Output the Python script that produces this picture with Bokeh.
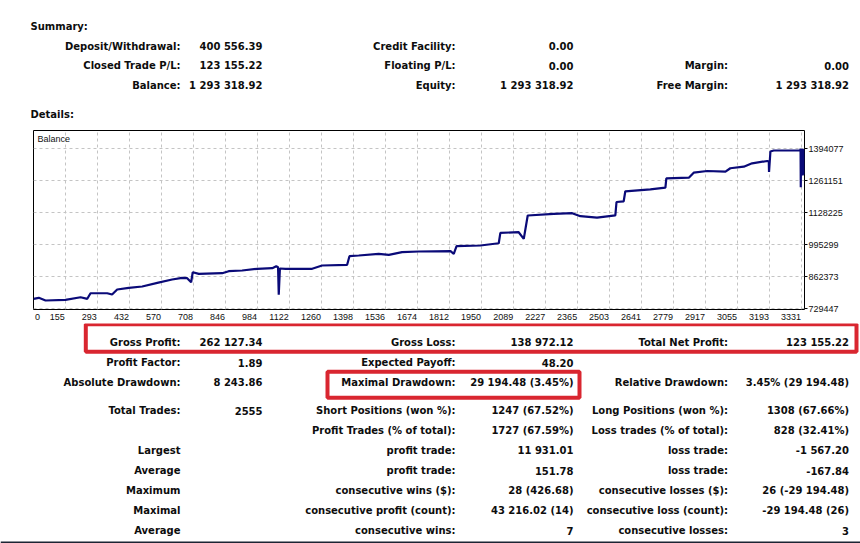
from bokeh.plotting import figure
from bokeh.layouts import column, row
from bokeh.models import Range1d, FixedTicker, Label, BasicTickFormatter
from bokeh.core.properties import value
from bokeh.embed import file_html
from bokeh.resources import INLINE

# ---------------- data ----------------
SUMMARY_LABELS_1 = ["Deposit/Withdrawal:", "Closed Trade P/L:", "Balance:"]
SUMMARY_VALUES_1 = ["400 556.39", "123 155.22", "1 293 318.92"]
SUMMARY_LABELS_2 = ["Credit Facility:", "Floating P/L:", "Equity:"]
SUMMARY_VALUES_2 = ["0.00", "0.00", "1 293 318.92"]
SUMMARY_LABELS_3 = ["", "Margin:", "Free Margin:"]
SUMMARY_VALUES_3 = ["", "0.00", "1 293 318.92"]

TRADE_NO = [17, 40, 69, 155, 220, 249, 263, 335, 356, 378, 428, 486, 551, 615, 658, 680, 697, 704,
            730, 831, 859, 917, 982, 1047, 1064, 1072, 1075, 1080, 1104, 1219, 1262, 1370, 1380,
            1420, 1506, 1550, 1607, 1679, 1816, 1830, 1842, 1945, 2024, 2031, 2110, 2132, 2149,
            2261, 2341, 2376, 2448, 2527, 2532, 2563, 2570, 2678, 2743, 2747, 2844, 2865, 2923,
            3002, 3023, 3081, 3117, 3182, 3189, 3190, 3196, 3210, 3325,
            3326, 3327, 3328, 3329, 3330, 3331, 3332, 3333, 3334, 3335, 3336, 3337, 3338, 3339,
            3340, 3341, 3342]
BALANCE = [771000, 775100, 763900, 766800, 777600, 771000, 794200, 794200, 788800, 809600, 816700,
           822100, 837400, 851200, 858200, 856600, 839900, 881500, 874800, 877300, 885600, 888500,
           895600, 898100, 906400, 902200, 787600, 896800, 895600, 895600, 909300, 912200, 947900,
           950800, 957900, 953800, 964600, 967500, 968700, 957900, 989500, 992400, 1001900,
           1045100, 1047600, 1020200, 1117000, 1124100, 1126600, 1114100, 1108000, 1117900,
           1173200, 1176100, 1217600, 1225900, 1232600, 1271600, 1274100, 1294900, 1301900,
           1299000, 1313200, 1319800, 1333900, 1343500, 1341400, 1297700, 1382900, 1387000, 1387000,
           1395000, 1234600, 1394000, 1283000, 1393000, 1285000, 1394000, 1290000, 1393000,
           1283000, 1392000, 1288000, 1393000, 1286000, 1391000, 1290000, 1293318.92]

X_TICK_LABELS = [0, 155, 293, 432, 570, 708, 846, 984, 1122, 1260, 1398, 1536, 1674, 1812,
                 1950, 2089, 2227, 2365, 2503, 2641, 2779, 2917, 3055, 3193, 3331]
Y_TICK_VALUES = [729447, 862373, 995299, 1128225, 1261151, 1394077]

D_LABELS_1 = ["Gross Profit:", "Profit Factor:", "Absolute Drawdown:", "Total Trades:", "",
              "Largest", "Average", "Maximum", "Maximal", "Average"]
D_VALUES_1 = ["262 127.34", "1.89", "8 243.86", "2555", "", "", "", "", "", ""]
D_LABELS_2 = ["Gross Loss:", "Expected Payoff:", "Maximal Drawdown:", "Short Positions (won %):",
              "Profit Trades (% of total):", "profit trade:", "profit trade:",
              "consecutive wins ($):", "consecutive profit (count):", "consecutive wins:"]
D_VALUES_2 = ["138 972.12", "48.20", "29 194.48 (3.45%)", "1247 (67.52%)", "1727 (67.59%)",
              "11 931.01", "151.78", "28 (426.68)", "43 216.02 (14)", "7"]
D_LABELS_3 = ["Total Net Profit:", "", "Relative Drawdown:", "Long Positions (won %):",
              "Loss trades (% of total):", "loss trade:", "loss trade:",
              "consecutive losses ($):", "consecutive loss (count):", "consecutive losses:"]
D_VALUES_3 = ["123 155.22", "", "3.45% (29 194.48)", "1308 (67.66%)", "828 (32.41%)",
              "-1 567.20", "-167.84", "26 (-29 194.48)", "-29 194.48 (26)", "3"]

# ---------------- layout / style ----------------
W = 860
COL_RIGHT = [180, 262, 455, 573, 727.5, 848.5]
SUM_ROWS_Y = [45.5, 65, 85]
DET_ROWS_Y = [342, 362, 382, 410, 430, 450, 470, 490, 510, 530]
TXT_FONT = "DejaVu Sans"
TXT_SIZE = "10px"
TXT_COLOR = "#0d0d0d"
RED = "#d92630"


def text_fig(top, bottom):
    p = figure(width=W, height=int(bottom - top), x_range=Range1d(0, W),
               y_range=Range1d(bottom, top), output_backend="svg", toolbar_location=None,
               min_border=0, min_border_left=0, min_border_right=0, min_border_top=0,
               min_border_bottom=0)
    p.axis.visible = False
    p.grid.visible = False
    p.outline_line_color = None
    p.background_fill_color = "white"
    p.border_fill_color = "white"
    return p


def put_column(p, texts, ys, xr, align="right"):
    xs, yy, tt = [], [], []
    for t, y in zip(texts, ys):
        if t:
            xs.append(xr)
            yy.append(y)
            tt.append(t)
    p.text(x=xs, y=yy, text=tt, text_align=align, text_baseline="middle",
           text_font=value(TXT_FONT), text_font_style="bold", text_font_size=TXT_SIZE,
           text_color=TXT_COLOR)


# ---- top part (summary) ----
top = text_fig(0, 120)
put_column(top, ["Summary:"], [25.5], 30, align="left")
put_column(top, ["Details:"], [114], 30, align="left")
put_column(top, SUMMARY_LABELS_1, SUM_ROWS_Y, COL_RIGHT[0])
put_column(top, SUMMARY_VALUES_1, SUM_ROWS_Y, COL_RIGHT[1])
put_column(top, SUMMARY_LABELS_2, SUM_ROWS_Y, COL_RIGHT[2])
put_column(top, SUMMARY_VALUES_2, SUM_ROWS_Y, COL_RIGHT[3])
put_column(top, SUMMARY_LABELS_3, SUM_ROWS_Y, COL_RIGHT[4])
put_column(top, SUMMARY_VALUES_3, SUM_ROWS_Y, COL_RIGHT[5])

# ---- balance chart ----
X_START, X_END = 17, 3343
Y_START, Y_END = 726600, 1470100
FRAME_W, FRAME_H = 771, 179
PX_PER_TRADE = FRAME_W / (X_END - X_START)
DIGIT_W = 4.8

chart = figure(frame_width=FRAME_W, frame_height=FRAME_H,
               x_range=Range1d(X_START, X_END), y_range=Range1d(Y_START, Y_END),
               output_backend="svg", toolbar_location=None, y_axis_location="right",
               min_border_left=33, min_border_right=56, min_border_top=10, min_border_bottom=14)
chart.background_fill_color = "white"
chart.border_fill_color = "white"
chart.outline_line_color = "black"
chart.outline_line_width = 1

chart.line(TRADE_NO, BALANCE, line_color="#0a0a78", line_width=2.2)

# label positions: MT4 prints each index just left of its grid line
label_pos, overrides = [], {}
for v in X_TICK_LABELS:
    if v == 0:
        pos = int(round(X_START + 4 / PX_PER_TRADE))
    else:
        pos = int(round(v - (1 + len(str(v)) * DIGIT_W / 2) / PX_PER_TRADE))
    label_pos.append(pos)
    overrides[pos] = str(v)

xa = chart.xaxis[0]
xa.ticker = FixedTicker(ticks=label_pos)
xa.major_label_overrides = overrides
xa.axis_line_color = None
xa.major_tick_line_color = None
xa.minor_tick_line_color = None
xa.major_tick_in = 0
xa.major_tick_out = 0
xa.minor_tick_in = 0
xa.minor_tick_out = 0
xa.major_label_standoff = 4
xa.major_label_text_font = "Liberation Sans"
xa.major_label_text_font_size = "9px"
xa.major_label_text_color = "#111111"

ya = chart.yaxis[0]
ya.ticker = FixedTicker(ticks=Y_TICK_VALUES)
ya.formatter = BasicTickFormatter(use_scientific=False)
ya.axis_line_color = None
ya.major_tick_in = 0
ya.major_tick_out = 3
ya.minor_tick_in = 0
ya.minor_tick_out = 0
ya.major_tick_line_color = "black"
ya.minor_tick_line_color = None
ya.major_label_standoff = 1
ya.major_label_text_font = "Liberation Sans"
ya.major_label_text_font_size = "9px"
ya.major_label_text_color = "#111111"

chart.xgrid[0].ticker = FixedTicker(ticks=[v for v in X_TICK_LABELS if v > 0])
chart.ygrid[0].ticker = FixedTicker(ticks=Y_TICK_VALUES)
for g in (chart.xgrid[0], chart.ygrid[0]):
    g.grid_line_color = "#c4c4c4"
    g.grid_line_dash = "3 3"
    g.grid_line_width = 1

chart.add_layout(Label(x=X_START, y=Y_END, x_offset=4, y_offset=-3, text="Balance",
                       text_baseline="top", text_font="Liberation Sans", text_font_size="9px",
                       text_color="#111111"))

# ---- bottom part (details) ----
bottom = text_fig(323, 543)
put_column(bottom, D_LABELS_1, DET_ROWS_Y, COL_RIGHT[0])
put_column(bottom, D_VALUES_1, DET_ROWS_Y, COL_RIGHT[1])
put_column(bottom, D_LABELS_2, DET_ROWS_Y, COL_RIGHT[2])
put_column(bottom, D_VALUES_2, DET_ROWS_Y, COL_RIGHT[3])
put_column(bottom, D_LABELS_3, DET_ROWS_Y, COL_RIGHT[4])
put_column(bottom, D_VALUES_3, DET_ROWS_Y, COL_RIGHT[5])

# highlight boxes
bottom.quad(left=[85.3, 327], right=[856, 579], top=[323.7, 371.3], bottom=[351.3, 397.3],
            fill_color=None, line_color=RED, line_width=4)
# dark strip of the window edge at the very bottom
bottom.quad(left=[0], right=[W], top=[541], bottom=[543], fill_color="#1c2433",
            line_color=None)

page = column(row(top), row(chart), row(bottom), spacing=0)
open("out.html", "w").write(file_html(page, INLINE))
